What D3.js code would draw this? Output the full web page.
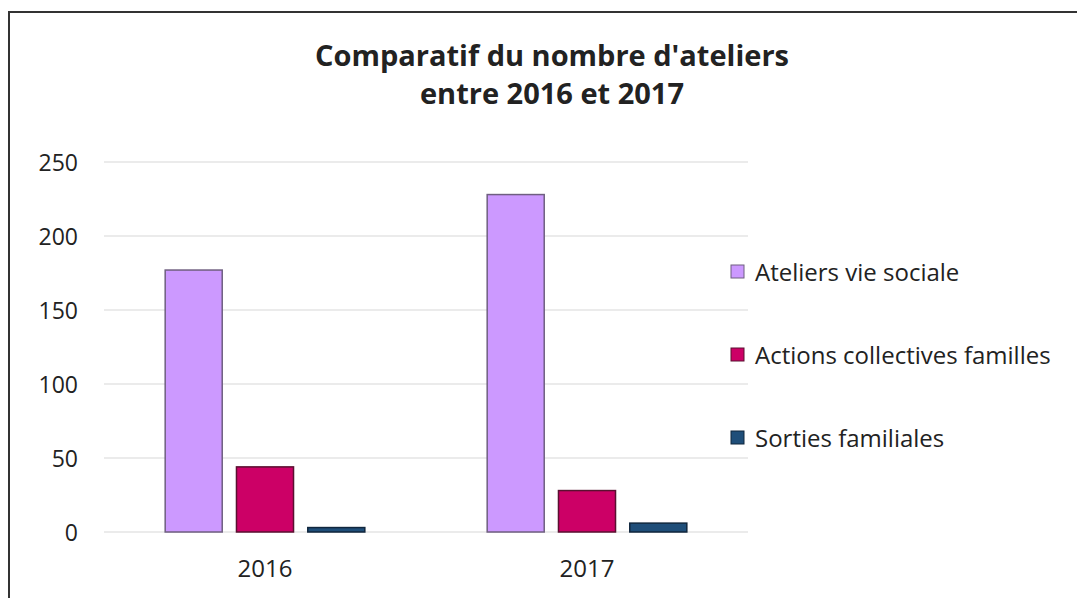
<!DOCTYPE html>
<html>
<head>
<meta charset="utf-8">
<script src="https://cdn.jsdelivr.net/npm/d3@7"></script>
<style>
    body { margin: 0; background: #fff; }
    text { font-family: "Open Sans", Lato, sans-serif; fill: #222; }
</style>
</head>
<body>
<script>
// Data
var years = ["2016", "2017"];
var seriesNames = ["Ateliers vie sociale", "Actions collectives familles",
    "Sorties familiales"];
var ateliers = [177, 228];
var actions = [44, 28];
var sorties = [3, 6];
var yTicks = [0, 50, 100, 150, 200, 250];

var colors = ["#cc99ff", "#cc0066", "#1f4e79"];
var strokes = ["#6f5f80", "#5a1030", "#10263d"];
var values = [ateliers, actions, sorties];

var W = 1077, H = 598;
var margin = {top: 162, right: 329, bottom: 66, left: 104};

var svg = d3.select("body").append("svg")
    .attr("width", W)
    .attr("height", H);

// Frame (top and left edges visible)
svg.append("path")
    .attr("d", "M9,598 L9,12 L1077,12")
    .attr("fill", "none")
    .attr("stroke", "#333")
    .attr("stroke-width", 2);

var x0 = d3.scaleBand()
    .domain(years)
    .range([margin.left, W - margin.right]);

var x1 = d3.scaleBand()
    .domain(d3.range(seriesNames.length))
    .range([0, x0.bandwidth() * 0.62])
    .paddingInner(0.2);

var y = d3.scaleLinear()
    .domain([0, 250])
    .range([H - margin.bottom, margin.top]);

// Gridlines
svg.append("g")
    .selectAll("line")
    .data(yTicks)
    .enter().append("line")
    .attr("x1", margin.left)
    .attr("x2", W - margin.right)
    .attr("y1", function(d) { return y(d); })
    .attr("y2", function(d) { return y(d); })
    .attr("stroke", "#e4e4e4")
    .attr("stroke-width", 1.5);

// Y axis labels
var yAxis = d3.axisLeft(y).tickValues(yTicks).tickSize(0).tickPadding(0);
var yg = svg.append("g")
    .attr("transform", "translate(78,0)")
    .call(yAxis);
yg.select(".domain").remove();
yg.selectAll("text")
    .style("font-size", "23px")
    .attr("dy", "0.36em");

// X axis labels
var xAxis = d3.axisBottom(x0).tickSize(0).tickPadding(0);
var xg = svg.append("g")
    .attr("transform", "translate(0,577)")
    .call(xAxis);
xg.select(".domain").remove();
xg.selectAll("text")
    .style("font-size", "24px")
    .attr("y", 0)
    .attr("dy", 0);

// Bars
var groupOffset = (x0.bandwidth() - x1.range()[1]) / 2;
values.forEach(function(vals, s) {
    svg.append("g")
        .selectAll("rect")
        .data(vals)
        .enter().append("rect")
        .attr("x", function(d, i) {
            return x0(years[i]) + groupOffset + x1(s);
        })
        .attr("y", function(d) { return y(d); })
        .attr("width", x1.bandwidth())
        .attr("height", function(d) { return y(0) - y(d); })
        .attr("fill", colors[s])
        .attr("stroke", strokes[s])
        .attr("stroke-width", 1.5);
});

// Title
var title = svg.append("text")
    .attr("text-anchor", "middle")
    .style("font-size", "29px")
    .style("font-weight", "bold");
title.append("tspan").attr("x", 552).attr("y", 66)
    .text("Comparatif du nombre d'ateliers");
title.append("tspan").attr("x", 552).attr("y", 104)
    .text("entre 2016 et 2017");

// Legend
var legend = svg.append("g")
    .selectAll("g")
    .data(seriesNames)
    .enter().append("g")
    .attr("transform", function(d, i) {
        return "translate(731," + (272 + i * 83) + ")";
    });
legend.append("rect")
    .attr("x", 0)
    .attr("y", -7)
    .attr("width", 13)
    .attr("height", 13)
    .attr("fill", function(d, i) { return colors[i]; })
    .attr("stroke", function(d, i) { return strokes[i]; });
legend.append("text")
    .attr("x", 24)
    .attr("dy", "0.36em")
    .style("font-size", "24px")
    .text(function(d) { return d; });
</script>
</body>
</html>
